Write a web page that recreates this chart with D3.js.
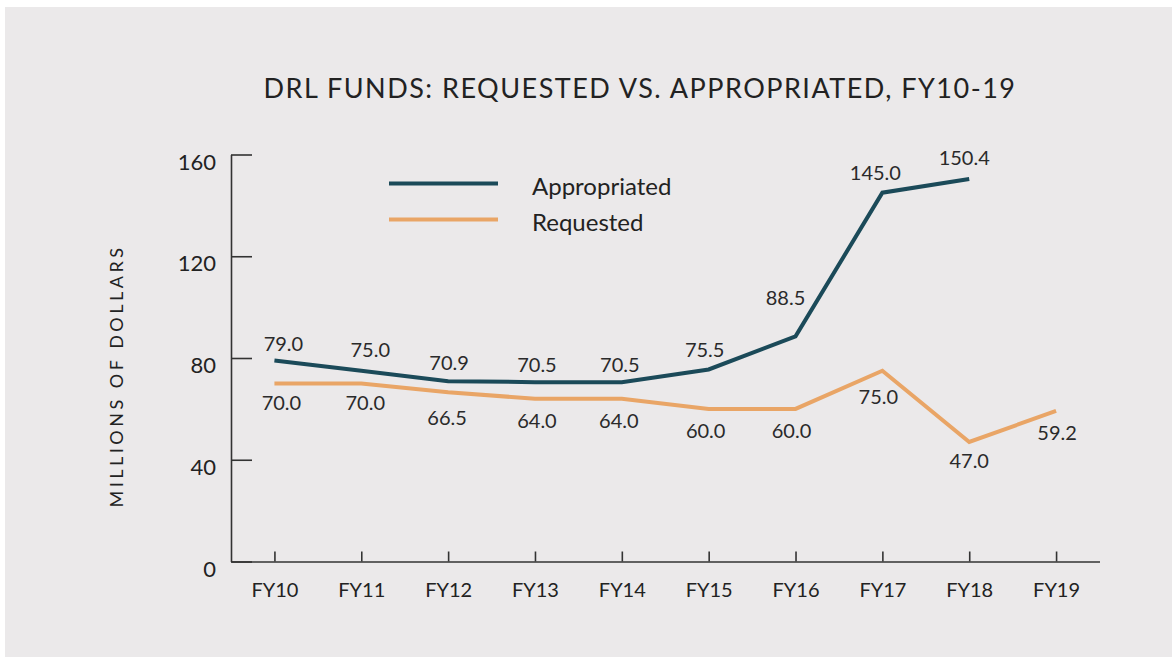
<!DOCTYPE html>
<html>
<head>
<meta charset="utf-8">
<script src="https://cdn.jsdelivr.net/npm/d3@7"></script>
<style>
  html, body { margin: 0; padding: 0; background: #ffffff; }
  svg { display: block; }
  text { font-family: Lato, "Open Sans", sans-serif; fill: #222; }
</style>
</head>
<body>
<svg id="drawing_region"></svg>
<script>
// data
const years = ["FY10", "FY11", "FY12", "FY13", "FY14", "FY15", "FY16", "FY17", "FY18", "FY19"];
const appropriated = [79.0, 75.0, 70.9, 70.5, 70.5, 75.5, 88.5, 145.0, 150.4, null];
const requested = [70.0, 70.0, 66.5, 64.0, 64.0, 60.0, 60.0, 75.0, 47.0, 59.2];
const yTicks = [0, 40, 80, 120, 160];

// label nudges (dx, dy of label centre from the point)
const appNudge = [[9,-17],[9,-21],[1,-18],[2,-17],[-2,-17],[-4,-19],[-10,-38],[-7,-20],[-5,-21],[0,0]];
const reqNudge = [[7,20],[4,20],[-1,26],[2,22],[-3,22],[-3,22],[-4,22],[-4,26],[0,19],[1,22]];

const W = 1172, H = 657;
const colApp = "#1b4a59", colReq = "#e9a566";

const svg = d3.select("#drawing_region")
    .attr("width", W)
    .attr("height", H);

svg.append("rect")
    .attr("x", 5).attr("y", 7)
    .attr("width", W - 5).attr("height", H - 7)
    .attr("fill", "#ebe9ea");

svg.append("text")
    .attr("x", 640).attr("y", 97.5)
    .attr("text-anchor", "middle")
    .style("font-size", "27px")
    .style("letter-spacing", "1.5px")
    .text("DRL FUNDS: REQUESTED VS. APPROPRIATED, FY10-19");

const xscale = d3.scalePoint()
    .domain(years)
    .range([231, 1099.5])
    .padding(0.5);

const yscale = d3.scaleLinear()
    .domain([0, 160])
    .range([561.5, 154.5]);

const xaxis = d3.axisBottom(xscale)
    .tickSizeInner(-10)
    .tickSizeOuter(0)
    .tickPadding(21);

const yaxis = d3.axisLeft(yscale)
    .tickValues(yTicks)
    .tickSizeInner(-21)
    .tickSizeOuter(0)
    .tickPadding(15);

const xg = svg.append("g")
    .attr("transform", "translate(0, 561.5)")
    .call(xaxis);
xg.selectAll("text").style("font-size", "20px").attr("fill", "#222");

const yg = svg.append("g")
    .attr("transform", "translate(231, 0)")
    .call(yaxis);
yg.selectAll("text").style("font-size", "22px").attr("dy", "0.66em").attr("fill", "#222");

svg.selectAll(".domain, .tick line")
    .attr("stroke", "#333")
    .attr("stroke-width", 1.6);

svg.append("text")
    .attr("transform", "translate(123, 376) rotate(-90)")
    .attr("text-anchor", "middle")
    .style("font-size", "18px")
    .style("letter-spacing", "3.5px")
    .text("MILLIONS OF DOLLARS");

const line = d3.line()
    .defined(d => d.v != null)
    .x(d => xscale(d.k))
    .y(d => yscale(d.v));

const series = [
    { name: "Appropriated", values: appropriated, color: colApp, nudge: appNudge },
    { name: "Requested", values: requested, color: colReq, nudge: reqNudge }
];

series.forEach(s => {
    const pts = years.map((k, i) => ({ k: k, v: s.values[i], n: s.nudge[i] }));

    svg.append("path")
        .datum(pts)
        .attr("fill", "none")
        .attr("stroke", s.color)
        .attr("stroke-width", 4)
        .attr("d", line);

    svg.append("g").selectAll("text")
        .data(pts.filter(d => d.v != null))
        .enter()
        .append("text")
        .attr("x", d => xscale(d.k) + d.n[0])
        .attr("y", d => yscale(d.v) + d.n[1] + 7)
        .attr("text-anchor", "middle")
        .style("font-size", "20px")
        .style("fill", "#2a2a2a")
        .text(d => d.v.toFixed(1));
});

// legend
const legend = svg.append("g");
series.forEach((s, i) => {
    const y = 183.5 + i * 36;
    legend.append("line")
        .attr("x1", 389).attr("x2", 498)
        .attr("y1", y).attr("y2", y)
        .attr("stroke", s.color)
        .attr("stroke-width", 4);
    legend.append("text")
        .attr("x", 532)
        .attr("y", y + 11)
        .style("font-size", "24px")
        .text(s.name);
});
</script>
</body>
</html>
